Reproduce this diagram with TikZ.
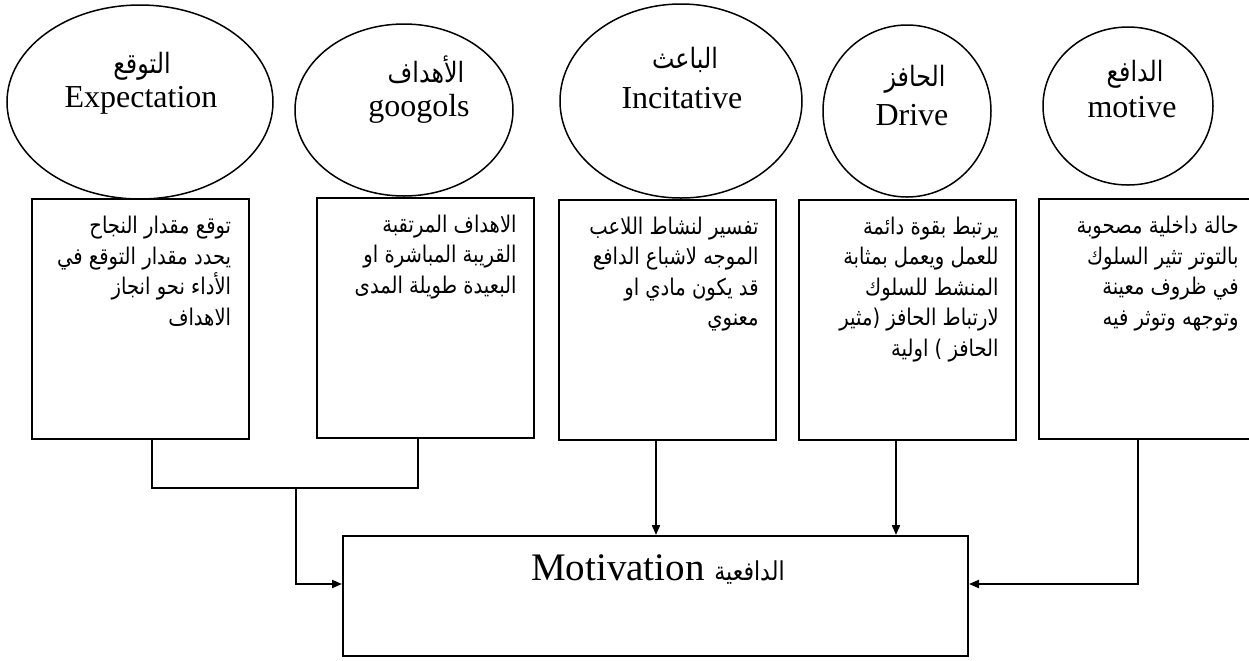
\documentclass[tikz,border=0pt]{standalone}
\usepackage{fontspec}
\setmainfont{Liberation Serif}
\newfontfamily\arabicfont[Script=Arabic, FakeStretch=0.85]{DejaVu Sans}
\TeXXeTstate=1
\usetikzlibrary{positioning,shapes.geometric,arrows.meta}

\newcommand{\ar}[1]{{\arabicfont\beginR#1\endR}}

\begin{document}
\begin{tikzpicture}[x=0.5pt, y=-0.5pt,
  oval/.style={ellipse, draw, line width=0.75pt, inner sep=0pt},
  infobox/.style={rectangle, draw, line width=1pt, inner sep=0pt,
    minimum width=108.5pt, minimum height=120pt},
  oval en/.style={font=\fontsize{16}{19}\selectfont, inner sep=0pt, anchor=base},
  oval ar/.style={font=\arabicfont\fontsize{14}{17}\selectfont, inner sep=0pt, anchor=base},
  box text/.style={font=\arabicfont\fontsize{11.5}{15.25}\selectfont, align=right,
    inner sep=0pt, anchor=north east},
  link/.style={line width=1pt},
  feed/.style={-{Triangle[length=5pt,width=4pt]}}]
  \useasboundingbox (0,0) rectangle (1249,660);
  \clip (0,0) rectangle (1249,660);

  % Ovals
  \node [oval, minimum width=133pt, minimum height=97pt] (expect) at (140,102) {};
  \node [oval, minimum width=109pt, minimum height=86pt] (goals) at (404,110) {};
  \node [oval, minimum width=121pt, minimum height=97pt] (incite) at (681,101) {};
  \node [oval, minimum width=84pt, minimum height=86pt] (drive) at (907,111) {};
  \node [oval, minimum width=85pt, minimum height=79pt] (motive) at (1128,106) {};

  \node [oval ar] (expect ar) at (142,73) {\ar{التوقع}};
  \node [oval en] (expect en) at (141,107) {Expectation};
  \node [oval ar] (goals ar) at (426,82) {\ar{الأهداف}};
  \node [oval en] (goals en) at (419,116) {googols};
  \node [oval ar] (incite ar) at (685,68) {\ar{الباعث}};
  \node [oval en] (incite en) at (682,108) {Incitative};
  \node [oval ar] (drive ar) at (915,86) {\ar{الحافز}};
  \node [oval en] (drive en) at (912,125) {Drive};
  \node [oval ar] (motive ar) at (1135,81) {\ar{الدافع}};
  \node [oval en] (motive en) at (1132,117) {motive};

  % Boxes
  \node [infobox] (box1) at (140,319) {};
  \node [infobox] (box2) at (425.5,317.5) {};
  \node [infobox] (box3) at (667.5,319.5) {};
  \node [infobox] (box4) at (907.5,319.5) {};
  \node [infobox] (box5) at (1147.5,319) {};

  \node [box text, below left = 9pt and 9pt of box1.north east] (box1 txt) {%
    \ar{توقع مقدار  النجاح}\\
    \ar{يحدد مقدار  التوقع في}\\
    \ar{الأداء نحو انجاز}\\
    \ar{الاهداف}};
  \node [box text, below left = 9pt and 9pt of box2.north east] (box2 txt) {%
    \ar{الاهداف المرتقبة}\\
    \ar{القريبة المباشرة او}\\
    \ar{البعيدة طويلة المدى}};
  \node [box text, below left = 9pt and 9pt of box3.north east] (box3 txt) {%
    \ar{تفسير  لنشاط اللاعب}\\
    \ar{الموجه لاشباع الدافع}\\
    \ar{قد يكون مادي  او}\\
    \ar{معنوي}};
  \node [box text, below left = 9pt and 9pt of box4.north east] (box4 txt) {%
    \ar{يرتبط بقوة دائمة}\\
    \ar{للعمل ويعمل بمثابة}\\
    \ar{المنشط للسلوك}\\
    \ar{لارتباط الحافز (مثير}\\
    \ar{الحافز ) اولية}};
  \node [box text, below left = 9pt and 9pt of box5.north east] (box5 txt) {%
    \ar{حالة داخلية مصحوبة}\\
    \ar{بالتوتر تثير السلوك}\\
    \ar{في ظروف معينة}\\
    \ar{وتوجهه وتوثر فيه}};

  % Motivation
  \node [rectangle, draw, line width=1pt, minimum width=312.5pt, minimum height=60pt]
    (motiv) at (655.5,596) {};
  \node [inner sep=0pt, anchor=base] (motiv txt) at (658,580)
    {\fontsize{19.5}{23}\selectfont Motivation {\fontsize{13}{15}\selectfont\ar{الدافعية}}};

  % Links
  \coordinate (join) at (296,488);
  \draw [link] ([xshift=6pt]box1.south) |- (join) -| ([xshift=-3.75pt]box2.south);
  \draw [link, feed] (join) |- ([yshift=6pt]motiv.west);
  \draw [link, feed] ([xshift=-5.75pt]box3.south) -- ([xshift=-5.75pt]box3.south |- motiv.north);
  \draw [link, feed] ([xshift=-5.75pt]box4.south) -- ([xshift=-5.75pt]box4.south |- motiv.north);
  \draw [link, feed] ([xshift=-5pt]box5.south) |- ([yshift=6pt]motiv.east);
\end{tikzpicture}
\end{document}
